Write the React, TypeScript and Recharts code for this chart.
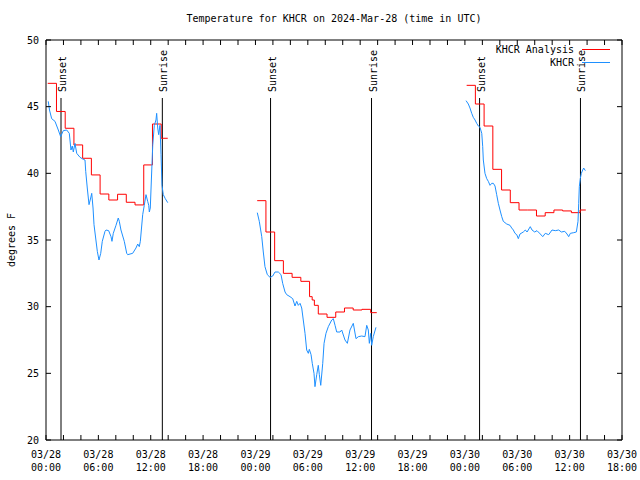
import { LineChart, Line, XAxis, YAxis, ReferenceLine, Legend } from "recharts";

// hours after 03/28 00:00 UTC, temperatures in degrees F
const obsHours1 = [0.26, 0.4, 0.65, 1.03, 1.41, 1.68, 1.98, 2.37, 2.67, 2.86, 3.01, 3.13, 3.32, 3.52, 3.9, 4.27, 4.47, 4.55, 4.73, 4.93, 5.12, 5.24, 5.39, 5.5, 5.69, 5.88, 6.07, 6.27, 6.45, 6.76, 6.88, 7.18, 7.45, 7.56, 7.71, 8.02, 8.28, 8.4, 8.59, 8.97, 9.25, 9.36, 9.93, 10.31, 10.51, 10.69, 10.81, 11.08, 11.26, 11.46, 11.65, 11.77, 11.84, 11.95, 12.11, 12.23, 12.41, 12.6, 12.68, 12.8, 12.91, 13.06, 13.18, 13.29, 13.44, 13.67, 13.95];
const obsTemps1 = [45.4, 44.75, 44.1, 43.9, 43.25, 42.75, 43.2, 43.25, 43.0, 41.75, 42.05, 41.6, 42.25, 41.5, 41.2, 41.05, 41.0, 40.15, 38.9, 37.65, 38.15, 38.5, 37.4, 36.15, 35.15, 34.15, 33.5, 34.0, 34.9, 35.65, 35.75, 35.7, 35.25, 34.9, 35.5, 36.1, 36.65, 36.4, 35.75, 34.9, 34.0, 33.9, 34.0, 34.4, 34.7, 34.5, 34.9, 36.9, 37.6, 38.4, 37.9, 37.6, 37.1, 37.4, 40.1, 42.1, 43.6, 44.0, 44.5, 43.4, 42.9, 43.6, 41.4, 39.1, 38.4, 38.1, 37.8];

const obsHours2 = [24.21, 24.44, 24.72, 24.9, 25.09, 25.36, 25.67, 25.98, 26.24, 26.62, 26.93, 27.12, 27.39, 27.58, 27.96, 28.27, 28.53, 28.73, 28.91, 29.11, 29.3, 29.48, 29.68, 29.87, 30.06, 30.17, 30.37, 30.51, 30.71, 30.82, 31.02, 31.2, 31.32, 31.48, 31.71, 31.86, 32.08, 32.35, 32.74, 32.92, 33.12, 33.31, 33.69, 33.88, 34.26, 34.53, 34.83, 35.21, 35.52, 35.79, 36.17, 36.55, 36.75, 36.93, 37.05, 37.21, 37.32, 37.5, 37.81];
const obsTemps2 = [37.05, 36.4, 35.25, 34.1, 33.0, 32.4, 32.2, 32.3, 32.6, 32.6, 32.4, 31.75, 31.1, 30.9, 30.75, 30.6, 30.05, 30.4, 30.1, 30.25, 29.9, 29.0, 28.0, 26.75, 26.5, 26.8, 26.4, 25.75, 25.0, 24.0, 24.9, 25.6, 24.9, 24.1, 25.75, 27.25, 28.0, 28.5, 29.0, 29.1, 28.6, 28.1, 28.1, 28.25, 27.5, 27.25, 28.25, 28.75, 27.6, 27.75, 27.8, 27.75, 28.6, 28.25, 27.25, 28.0, 27.1, 27.75, 28.45];

const obsHours3 = [48.13, 48.39, 48.58, 48.78, 48.96, 49.16, 49.35, 49.54, 49.73, 49.93, 50.04, 50.11, 50.3, 50.5, 50.68, 50.88, 51.07, 51.26, 51.45, 51.64, 51.83, 52.02, 52.22, 52.4, 52.79, 53.17, 53.36, 53.55, 53.74, 53.94, 54.12, 54.31, 54.69, 54.92, 55.12, 55.49, 55.69, 56.0, 56.26, 56.64, 56.92, 57.21, 57.6, 57.98, 58.36, 58.75, 59.05, 59.44, 59.7, 59.89, 60.08, 60.47, 60.77, 60.96, 61.04, 61.11, 61.22, 61.34, 61.5, 61.61, 61.8];
const obsTemps3 = [45.45, 45.2, 44.9, 44.5, 44.2, 44.0, 43.75, 43.55, 43.45, 43.0, 42.0, 41.0, 40.0, 39.6, 39.4, 39.1, 39.25, 39.25, 39.05, 38.4, 37.75, 37.25, 36.75, 36.4, 36.2, 36.1, 35.9, 35.75, 35.5, 35.4, 35.1, 35.45, 35.6, 35.75, 35.6, 36.0, 35.75, 35.6, 35.7, 35.45, 35.25, 35.5, 35.4, 35.75, 35.7, 35.75, 35.6, 35.65, 35.45, 35.25, 35.5, 35.55, 35.6, 36.4, 37.75, 39.0, 39.6, 40.0, 40.25, 40.4, 40.2];

// hourly analysis values (held until the next one)
const anaHours1 = [0.2, 1.2, 2.2, 3.2, 4.2, 5.2, 6.2, 7.2, 8.2, 9.2, 10.2, 11.2, 12.2, 13.2, 13.95];
const anaTemps1 = [46.75, 44.64, 43.38, 42.13, 41.13, 39.88, 38.45, 38.0, 38.43, 37.83, 37.63, 40.63, 43.7, 42.63, 42.63];
const anaHours2 = [24.2, 25.2, 26.2, 27.2, 28.2, 29.2, 30.2, 30.5, 30.75, 31.2, 32.2, 33.2, 34.2, 35.2, 36.2, 37.2, 37.9];
const anaTemps2 = [37.95, 35.6, 33.45, 32.5, 32.2, 31.9, 30.75, 30.5, 30.1, 29.45, 29.2, 29.6, 29.9, 29.75, 29.8, 29.55, 29.55];
const anaHours3 = [48.2, 49.2, 50.2, 51.2, 52.2, 53.2, 54.2, 55.2, 56.2, 57.2, 58.2, 59.2, 60.2, 61.2, 61.85];
const anaTemps3 = [46.6, 45.2, 43.55, 40.3, 38.75, 37.8, 37.25, 37.25, 36.8, 37.05, 37.25, 37.18, 37.05, 37.25, 37.25];

const sunHours = [1.72, 13.33, 25.73, 37.3, 49.68, 61.24];
const sunLabels = ["Sunset", "Sunrise", "Sunset", "Sunrise", "Sunset", "Sunrise"];

const xTicks = [0, 2, 4, 6, 8, 10, 12, 14, 16, 18, 20, 22, 24, 26, 28, 30, 32, 34, 36, 38, 40, 42, 44, 46, 48, 50, 52, 54, 56, 58, 60, 62, 64, 66];
const yTicks = [20, 25, 30, 35, 40, 45, 50];

const RED = "#ff0000";
const BLUE = "#1e90ff";
const FONT = "'DejaVu Sans Mono', monospace";

const rows = (hours: number[], temps: number[]) => hours.map((h, i) => ({ h, t: temps[i] }));

const analysisData = [
  ...rows(anaHours1, anaTemps1),
  { h: 19, t: null },
  ...rows(anaHours2, anaTemps2),
  { h: 43, t: null },
  ...rows(anaHours3, anaTemps3),
];
const obsData = [
  ...rows(obsHours1, obsTemps1),
  { h: 19, t: null },
  ...rows(obsHours2, obsTemps2),
  { h: 43, t: null },
  ...rows(obsHours3, obsTemps3),
];

const pad = (n: number) => (n < 10 ? "0" + n : "" + n);

const XTick = ({ x, y, payload }: any) => {
  const h = payload.value;
  if (h % 6 !== 0) return <g />;
  const day = 28 + Math.floor(h / 24);
  return (
    <text x={x} textAnchor="middle" fontSize={10} fontFamily={FONT} fill="#000">
      <tspan x={x} y={y + 23}>{"03/" + day}</tspan>
      <tspan x={x} y={y + 35.5}>{pad(h % 24) + ":00"}</tspan>
    </text>
  );
};

const SunLabel = ({ viewBox, text }: any) => {
  const x = viewBox.x + 5;
  const y = viewBox.y - 6;
  return (
    <text x={x} y={y} transform={`rotate(-90 ${x} ${y})`} fontSize={10} fontFamily={FONT} fill="#000">
      {text}
    </text>
  );
};

const LegendBox = () => (
  <div style={{ fontFamily: FONT, fontSize: 10, lineHeight: "13px", color: "#000" }}>
    {[
      { name: "KHCR Analysis", color: RED },
      { name: "KHCR", color: BLUE },
    ].map((s) => (
      <div key={s.name} style={{ display: "flex", justifyContent: "flex-end", alignItems: "center", height: 13 }}>
        <span>{s.name}</span>
        <svg width={36} height={13} style={{ display: "block" }}>
          <line x1={8} x2={36} y1={6.5} y2={6.5} stroke={s.color} strokeWidth={1} />
        </svg>
      </div>
    ))}
  </div>
);

export default function App() {
  return (
    <div style={{ position: "absolute", left: 0, top: 0, width: 640, height: 480, background: "#fff" }}>
      <div
        style={{
          position: "absolute",
          left: 0,
          top: 12,
          width: 668,
          textAlign: "center",
          fontFamily: FONT,
          fontSize: 10,
          lineHeight: "14px",
        }}
      >
        Temperature for KHCR on 2024-Mar-28 (time in UTC)
      </div>
      <LineChart width={640} height={480} margin={{ top: 39, right: 17, bottom: 0, left: 0 }}>
        <XAxis
          dataKey="h"
          type="number"
          domain={[0, 66]}
          ticks={xTicks}
          interval={0}
          height={40}
          tickSize={-5}
          tickMargin={0}
          tick={<XTick />}
          stroke="#000"
          allowDataOverflow
        />
        <XAxis
          xAxisId="top"
          orientation="top"
          dataKey="h"
          type="number"
          domain={[0, 66]}
          ticks={xTicks}
          interval={0}
          height={1}
          tickSize={-5}
          tick={() => <g />}
          stroke="#000"
          allowDataOverflow
        />
        <YAxis
          type="number"
          domain={[20, 50]}
          ticks={yTicks}
          interval={0}
          width={46}
          tickSize={-5}
          tickMargin={12}
          tick={{ fontSize: 10, fontFamily: FONT, fill: "#000" }}
          stroke="#000"
          allowDataOverflow
          label={({ viewBox }: any) => (
            <text
              x={11}
              y={viewBox.y + viewBox.height / 2}
              transform={`rotate(-90 11 ${viewBox.y + viewBox.height / 2})`}
              textAnchor="middle"
              dominantBaseline="central"
              fontSize={10}
              fontFamily={FONT}
              fill="#000"
            >
              degrees F
            </text>
          )}
        />
        <YAxis
          yAxisId="right"
          orientation="right"
          type="number"
          domain={[20, 50]}
          ticks={yTicks}
          interval={0}
          width={1}
          tickSize={-5}
          tick={() => <g />}
          stroke="#000"
          allowDataOverflow
        />
        {sunHours.map((h, i) => (
          <ReferenceLine
            key={i}
            segment={[
              { x: h, y: 20 },
              { x: h, y: 45.65 },
            ]}
            stroke="#000"
            strokeWidth={1}
            label={(p: any) => <SunLabel {...p} text={sunLabels[i]} />}
          />
        ))}
        <Line
          data={analysisData}
          dataKey="t"
          type="stepAfter"
          stroke={RED}
          strokeWidth={1}
          dot={false}
          isAnimationActive={false}
        />
        <Line
          data={obsData}
          dataKey="t"
          type="linear"
          stroke={BLUE}
          strokeWidth={1}
          dot={false}
          isAnimationActive={false}
        />
        <Line
          data={obsData}
          dataKey="t"
          xAxisId="top"
          yAxisId="right"
          stroke="none"
          dot={false}
          legendType="none"
          isAnimationActive={false}
        />
        <Legend
          layout="vertical"
          align="center"
          verticalAlign="middle"
          content={() => <LegendBox />}
          wrapperStyle={{ left: 418, top: 43, width: 192, height: 26 }}
        />
      </LineChart>
    </div>
  );
}
